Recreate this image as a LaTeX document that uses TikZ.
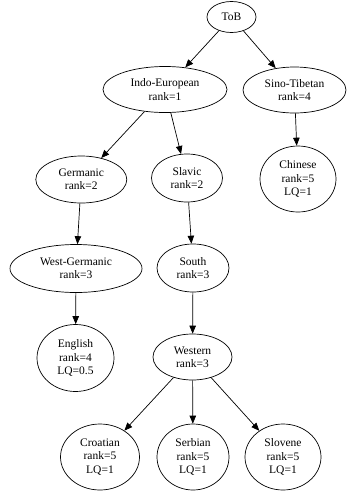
\documentclass[tikz,border=0pt]{standalone}
\usepackage{fontspec}
\setmainfont{Liberation Serif}
\usetikzlibrary{shapes.geometric,arrows.meta}
\begin{document}
\begin{tikzpicture}[x=1pt,y=-1pt,
  nd/.style={draw,ellipse,inner sep=0pt,line width=0.7pt,align=center,
    font=\fontsize{11.5}{13.3}\selectfont},
  edge/.style={line width=0.7pt,-{Triangle[length=8pt,width=6.5pt]}}]
\useasboundingbox (0,0) rectangle (346,496);
\node[nd,minimum width=49pt,minimum height=31pt] (tob) at (231.5,17) {ToB};
\node[nd,minimum width=124pt,minimum height=46pt] (ie) at (165,89.5) {Indo-European\\rank=1};
\node[nd,minimum width=103pt,minimum height=46pt] (st) at (294.5,90) {Sino-Tibetan\\rank=4};
\node[nd,minimum width=91pt,minimum height=47pt] (ger) at (81.3,179.5) {Germanic\\rank=2};
\node[nd,minimum width=71pt,minimum height=48pt] (sla) at (187,178) {Slavic\\rank=2};
\node[nd,minimum width=76pt,minimum height=66pt] (chi) at (298,179) {Chinese\\rank=5\\LQ=1};
\node[nd,minimum width=132pt,minimum height=48pt] (wg) at (76,268.5) {West-Germanic\\rank=3};
\node[nd,minimum width=72pt,minimum height=48pt] (sou) at (193,268) {South\\rank=3};
\node[nd,minimum width=77pt,minimum height=67pt] (eng) at (75.5,358) {English\\rank=4\\LQ=0.5};
\node[nd,minimum width=79pt,minimum height=46pt] (wes) at (192.5,357) {Western\\rank=3};
\node[nd,minimum width=79pt,minimum height=66pt] (cro) at (100,457) {Croatian\\rank=5\\LQ=1};
\node[nd,minimum width=72pt,minimum height=66pt] (ser) at (193,457) {Serbian\\rank=5\\LQ=1};
\node[nd,minimum width=76pt,minimum height=66pt] (slo) at (283,457) {Slovene\\rank=5\\LQ=1};
\draw[edge] (tob) -- (ie);
\draw[edge] (tob) -- (st);
\draw[edge] (ie) -- (ger);
\draw[edge] (ie) -- (sla);
\draw[edge] (st) -- (chi);
\draw[edge] (ger) -- (wg);
\draw[edge] (sla) -- (sou);
\draw[edge] (wg) -- (eng);
\draw[edge] (sou) -- (wes);
\draw[edge] (wes) -- (cro);
\draw[edge] (wes) -- (ser);
\draw[edge] (wes) -- (slo);
\end{tikzpicture}
\end{document}
